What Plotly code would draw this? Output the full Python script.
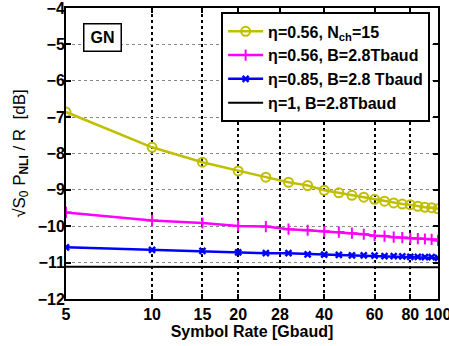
import plotly.graph_objects as go
import numpy as np

symbol_rate = [5, 10, 15, 20, 25, 30, 35, 40, 45, 50, 55, 60, 65, 70, 75, 80, 85, 90, 95, 100]
y_nch15 = [-6.86, -7.83, -8.24, -8.48, -8.65, -8.79, -8.88, -9.01, -9.08, -9.15, -9.20, -9.26,
           -9.31, -9.36, -9.39, -9.41, -9.45, -9.48, -9.49, -9.52]
y_056 = [-9.62, -9.84, -9.91, -9.99, -10.01, -10.08, -10.11, -10.14, -10.16, -10.19, -10.22, -10.26,
         -10.27, -10.30, -10.31, -10.33, -10.34, -10.35, -10.36, -10.39]
y_085 = [-10.58, -10.65, -10.68, -10.72, -10.74, -10.74, -10.77, -10.78, -10.79, -10.80, -10.80, -10.81,
         -10.82, -10.82, -10.83, -10.84, -10.84, -10.85, -10.85, -10.87]
y_1 = [-11.11, -11.11, -11.11, -11.12, -11.12, -11.12, -11.12, -11.12, -11.12, -11.12, -11.12, -11.12,
       -11.12, -11.12, -11.13, -11.13, -11.13, -11.13, -11.13, -11.13]

x_ticks = [5, 10, 15, 20, 28, 40, 60, 80, 100]
y_ticks = [-12, -11, -10, -9, -8, -7, -6, -5, -4]

FONT = "Liberation Sans, Arial, sans-serif"

fig = go.Figure()
fig.add_trace(go.Scatter(x=symbol_rate, y=y_nch15, mode="lines+markers",
                         name="<b>η=0.56, N<sub>ch</sub>=15</b>",
                         line=dict(color="#BFBF00", width=2.5),
                         marker=dict(symbol="circle-open", size=9, color="#BFBF00", line=dict(width=2))))
fig.add_trace(go.Scatter(x=symbol_rate, y=y_056, mode="lines+markers",
                         name="<b>η=0.56, B=2.8Tbaud</b>",
                         line=dict(color="#FF00FF", width=2.5),
                         marker=dict(symbol="cross-thin-open", size=8, color="#FF00FF", line=dict(width=2, color="#FF00FF"))))
fig.add_trace(go.Scatter(x=symbol_rate, y=y_085, mode="lines+markers",
                         name="<b>η=0.85, B=2.8 Tbaud</b>",
                         line=dict(color="#0000FF", width=2.5),
                         marker=dict(symbol="x-thin-open", size=6, color="#0000FF", line=dict(width=2.5, color="#0000FF"))))
fig.add_trace(go.Scatter(x=symbol_rate, y=y_1, mode="lines",
                         name="<b>η=1, B=2.8Tbaud</b>",
                         line=dict(color="black", width=2)))

fig.add_annotation(x=0.098, y=0.897, xref="paper", yref="paper", xanchor="center", yanchor="middle",
                   text="<b>GN</b>", width=32, height=22,
                   showarrow=False, font=dict(size=16, color="black", family=FONT),
                   bordercolor="black", borderwidth=1.5, borderpad=2, bgcolor="white")

fig.update_layout(
    width=449, height=346,
    margin=dict(l=66, r=11, t=8, b=47, autoexpand=False),
    paper_bgcolor="white", plot_bgcolor="white",
    font=dict(family=FONT, color="black"),
    showlegend=True,
    legend=dict(x=0.417, y=0.985, xanchor="left", yanchor="top",
                bordercolor="black", borderwidth=2, bgcolor="white",
                font=dict(size=16, family=FONT, color="black"),
                itemwidth=35, tracegroupgap=0),
)
fig.update_xaxes(type="log", range=[np.log10(5), 2], tickvals=x_ticks,
                 ticktext=[f"<b>{v}</b>" for v in x_ticks], automargin=False,
                 ticklabeloverflow="allow",
                 tickfont=dict(size=16), ticks="inside", ticklen=5, tickwidth=1.5, tickcolor="black",
                 showline=True, linecolor="black", linewidth=2, mirror="ticks",
                 showgrid=True, gridcolor="black", griddash="dot", gridwidth=1.5,
                 zeroline=False,
                 title=dict(text="<b>Symbol Rate [Gbaud]</b>", font=dict(size=16), standoff=2))
fig.update_yaxes(range=[-12, -4], tickvals=y_ticks,
                 ticktext=[f"<b>−{abs(v)}</b>" for v in y_ticks], automargin=False,
                 ticklabeloverflow="allow", ticklabelstandoff=-4,
                 tickfont=dict(size=16), ticks="inside", ticklen=5, tickwidth=1.5, tickcolor="black",
                 showline=True, linecolor="black", linewidth=2, mirror="ticks",
                 showgrid=True, gridcolor="#888888", griddash="dot", gridwidth=1,
                 zeroline=False,
                 title=dict(text="√S<sub>0</sub> P<sub><b>NLI</b></sub> / R  [dB]", font=dict(size=17), standoff=8))

fig.write_html("out.html", post_script="document.body.style.margin='0';",
               config={"displayModeBar": False})
